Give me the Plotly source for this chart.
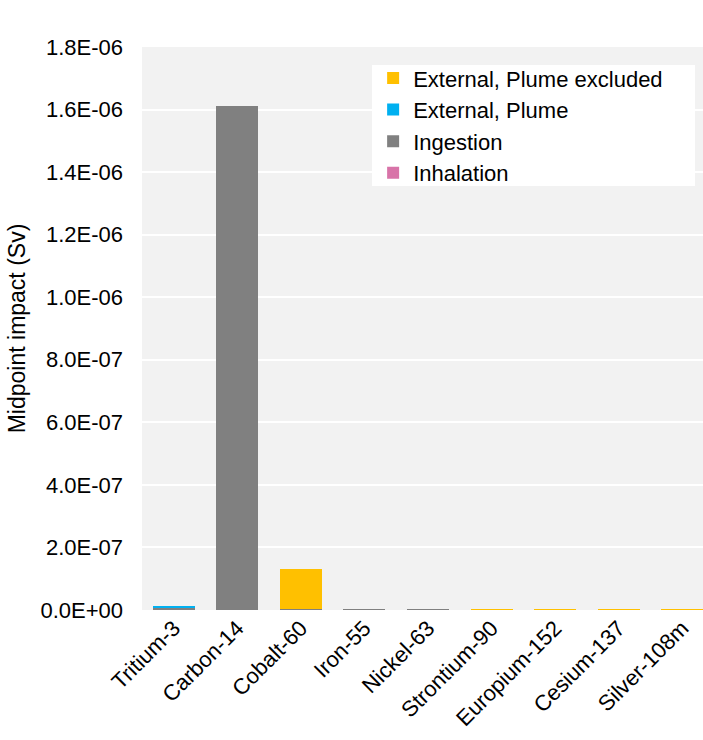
import plotly.graph_objects as go

# Radionuclides and their midpoint impact by exposure pathway (Sv)
nuclides = ["Tritium-3", "Carbon-14", "Cobalt-60", "Iron-55", "Nickel-63",
            "Strontium-90", "Europium-152", "Cesium-137", "Silver-108m"]

inhalation = [0.0, 0.0, 0.0, 1.6e-9, 1.6e-9, 0.0, 0.0, 0.0, 0.0]
ingestion = [9.5e-9, 1.61e-6, 3.0e-9, 0.9e-9, 0.9e-9, 0.3e-9, 0.0, 1.0e-9, 1.0e-9]
external_plume = [1.5e-9, 0.0, 0.0, 0.0, 0.0, 0.0, 0.0, 0.0, 0.0]
external_plume_excluded = [0.0, 0.0, 1.28e-7, 0.0, 0.0, 2.6e-9, 1.0e-9, 2.0e-9, 2.0e-9]

y_ticks = [0.0, 2e-7, 4e-7, 6e-7, 8e-7, 1.0e-6, 1.2e-6, 1.4e-6, 1.6e-6, 1.8e-6]
y_tick_text = [f"{v:.1E}" for v in y_ticks]

FONT = "Liberation Sans, Arial, sans-serif"

series = [
    ("Inhalation", inhalation, "#D873A8"),
    ("Ingestion", ingestion, "#808080"),
    ("External, Plume", external_plume, "#00B0F0"),
    ("External, Plume excluded", external_plume_excluded, "#FFC000"),
]

fig = go.Figure()
for name, vals, color in series:
    fig.add_trace(go.Bar(
        x=nuclides, y=vals, name=name, legendgroup=name,
        marker=dict(color=color, line=dict(width=0)),
    ))

fig.update_layout(
    width=703, height=740,
    barmode="stack", bargap=0.34,
    paper_bgcolor="white", plot_bgcolor="#F2F2F2",
    font=dict(family=FONT, size=22, color="#000000"),
    margin=dict(l=142, r=0, t=47, b=130),
    legend=dict(
        x=0.412, y=0.982, xanchor="left", yanchor="top",
        bgcolor="rgba(0,0,0,0)", traceorder="reversed",
        tracegroupgap=0, font=dict(size=22),
    ),
    shapes=[dict(
        type="rect", xref="paper", yref="paper",
        x0=0.41, x1=0.9857, y0=0.753, y1=0.968,
        fillcolor="white", line=dict(width=0), layer="below",
    )],
)

fig.update_xaxes(
    range=[-0.5, 8.326], tickangle=-45, showgrid=False,
    showline=False, zeroline=False, ticks="",
    tickfont=dict(size=22),
)
fig.update_yaxes(
    range=[0, 1.8e-6], tickvals=y_ticks, ticktext=y_tick_text,
    showgrid=True, gridcolor="white", gridwidth=1.5,
    showline=False, zeroline=False, ticks="", ticklabelstandoff=18,
    tickfont=dict(size=22),
    title=dict(text="Midpoint impact (Sv)", font=dict(size=23), standoff=8),
)

fig.write_html("out.html")
